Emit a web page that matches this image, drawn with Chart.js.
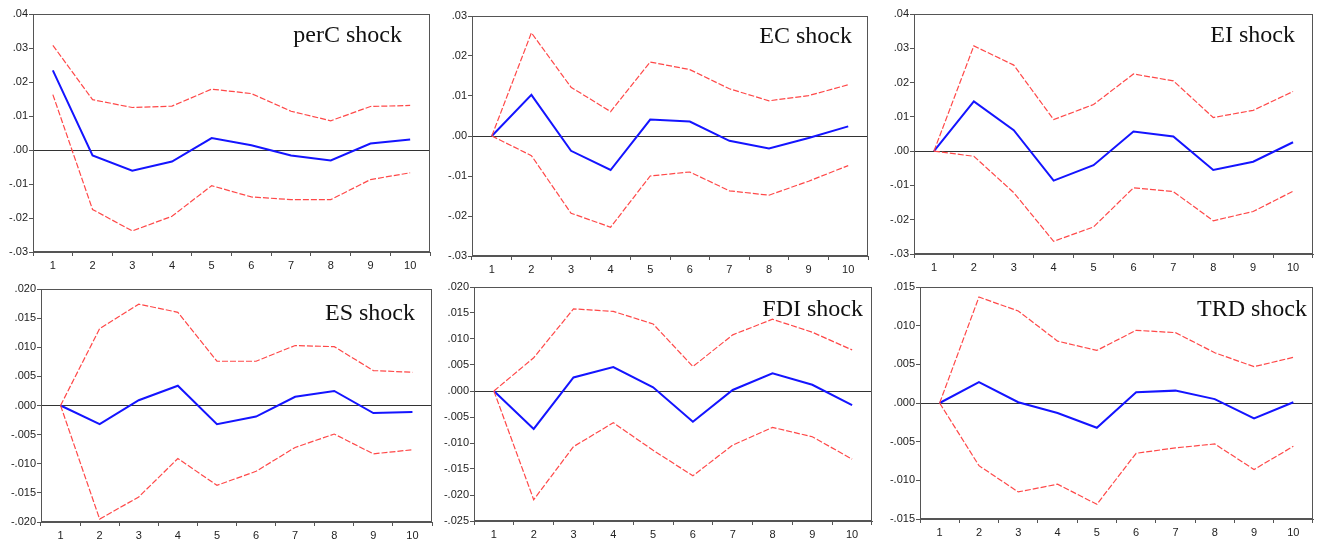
<!DOCTYPE html>
<html>
<head>
<meta charset="utf-8">
<script src="https://cdn.jsdelivr.net/npm/chart.js@4/dist/chart.umd.min.js"></script>
<style>
body { margin: 0; background: #fff; }
#wrap { position: relative; width: 1319px; height: 541px; overflow: hidden; }
#wrap canvas { position: absolute; }
</style>
</head>
<body>
<div id="wrap"></div>
<script>
// Perioder
const periods = ['1', '2', '3', '4', '5', '6', '7', '8', '9', '10'];

// perC shock
const perCResp  = [0.0234, -0.0016, -0.0061, -0.0034, 0.0035, 0.0014, -0.0016, -0.0031, 0.0019, 0.0031];
const perCUpper = [0.0308, 0.0148, 0.0125, 0.0129, 0.0179, 0.0166, 0.0114, 0.0086, 0.0128, 0.0131];
const perCLower = [0.0163, -0.0175, -0.0238, -0.0195, -0.0105, -0.0138, -0.0146, -0.0146, -0.0087, -0.0067];

// EC shock
const ecResp  = [0, 0.0103, -0.0037, -0.0085, 0.0041, 0.0036, -0.0012, -0.0031, -0.0005, 0.0024];
const ecUpper = [0, 0.0258, 0.0122, 0.0061, 0.0185, 0.0166, 0.0118, 0.0088, 0.0101, 0.0128];
const ecLower = [0, -0.0049, -0.0193, -0.0228, -0.0100, -0.0090, -0.0137, -0.0148, -0.0113, -0.0074];

// EI shock
const eiResp  = [0, 0.0145, 0.0061, -0.0086, -0.0041, 0.0057, 0.0043, -0.0055, -0.0031, 0.0026];
const eiUpper = [0, 0.0307, 0.0251, 0.0092, 0.0136, 0.0225, 0.0205, 0.0098, 0.0119, 0.0174];
const eiLower = [0, -0.0015, -0.0121, -0.0263, -0.0221, -0.0107, -0.0118, -0.0203, -0.0176, -0.0117];

// ES shock
const esResp  = [0, -0.0032, 0.0009, 0.0034, -0.0032, -0.0019, 0.0015, 0.0025, -0.0013, -0.0011];
const esUpper = [0, 0.0132, 0.0174, 0.0160, 0.0076, 0.0076, 0.0103, 0.0101, 0.0060, 0.0057];
const esLower = [0, -0.0195, -0.0157, -0.0091, -0.0137, -0.0113, -0.0072, -0.0049, -0.0083, -0.0076];

// FDI shock
const fdiResp  = [0, -0.0073, 0.0026, 0.0046, 0.0007, -0.0059, 0.0002, 0.0034, 0.0012, -0.0027];
const fdiUpper = [0, 0.0064, 0.0158, 0.0153, 0.0129, 0.0047, 0.0108, 0.0138, 0.0113, 0.0079];
const fdiLower = [0, -0.0209, -0.0107, -0.0061, -0.0114, -0.0163, -0.0104, -0.0070, -0.0088, -0.0131];

// TRD shock
const trdResp  = [0, 0.0027, 0.0001, -0.0013, -0.0032, 0.0014, 0.0016, 0.0005, -0.0020, 0.0001];
const trdUpper = [0, 0.0137, 0.0119, 0.0080, 0.0068, 0.0094, 0.0091, 0.0065, 0.0047, 0.0059];
const trdLower = [0, -0.0081, -0.0115, -0.0105, -0.0131, -0.0065, -0.0058, -0.0053, -0.0086, -0.0056];

// Paneloppsett: lerret [x, y, w, h], plottområde [venstre, topp, høyre, bunn], tittel [x, y]
const panels = [
    { title: 'perC shock', resp: perCResp, upper: perCUpper, lower: perCLower, min: -0.03, max: 0.04, step: 0.01, dec: 2,
      box: [0, 0, 440, 285], plot: [33, 14, 430, 252], titlePos: [402, 42] },
    { title: 'EC shock', resp: ecResp, upper: ecUpper, lower: ecLower, min: -0.03, max: 0.03, step: 0.01, dec: 2,
      box: [440, 0, 440, 285], plot: [472, 16, 868, 256], titlePos: [852, 43] },
    { title: 'EI shock', resp: eiResp, upper: eiUpper, lower: eiLower, min: -0.03, max: 0.04, step: 0.01, dec: 2,
      box: [880, 0, 439, 285], plot: [914, 14, 1313, 254], titlePos: [1295, 42] },
    { title: 'ES shock', resp: esResp, upper: esUpper, lower: esLower, min: -0.02, max: 0.02, step: 0.005, dec: 3,
      box: [0, 272, 440, 269], plot: [41, 289, 432, 522], titlePos: [415, 320] },
    { title: 'FDI shock', resp: fdiResp, upper: fdiUpper, lower: fdiLower, min: -0.025, max: 0.02, step: 0.005, dec: 3,
      box: [440, 272, 440, 269], plot: [474, 287, 872, 521], titlePos: [863, 316] },
    { title: 'TRD shock', resp: trdResp, upper: trdUpper, lower: trdLower, min: -0.015, max: 0.015, step: 0.005, dec: 3,
      box: [880, 272, 439, 269], plot: [920, 287, 1313, 519], titlePos: [1307, 316] }
];

// Ramme rundt plottet og tittel inne i plottet
const framePlugin = {
    id: 'frame',
    afterDraw(chart, args, opts) {
        const ctx = chart.ctx;
        const a = chart.chartArea;
        ctx.save();
        ctx.strokeStyle = '#555';
        ctx.lineWidth = 1;
        ctx.strokeRect(Math.round(a.left) + 0.5, Math.round(a.top) + 0.5,
            Math.round(a.right - a.left) - 1, Math.round(a.bottom - a.top) - 1);
        ctx.font = '24px "Liberation Serif", "Times New Roman", serif';
        ctx.fillStyle = '#111';
        ctx.textAlign = 'right';
        ctx.textBaseline = 'alphabetic';
        ctx.fillText(opts.text, opts.x, opts.y);
        ctx.restore();
    }
};

function fmtTick(v, dec) {
    return v.toFixed(dec).replace('0.', '.');
}

function makePanel(p) {
    const [bx, by, bw, bh] = p.box;
    const [pl, pt, pr, pb] = p.plot;
    const canvas = document.createElement('canvas');
    canvas.width = bw;
    canvas.height = bh;
    canvas.style.left = bx + 'px';
    canvas.style.top = by + 'px';
    canvas.style.width = bw + 'px';
    canvas.style.height = bh + 'px';
    document.getElementById('wrap').appendChild(canvas);

    const yWidth = pl - bx;
    const xHeight = by + bh - pb;
    const tickFont = { family: '"Liberation Sans", Arial', size: 11 };

    const dashed = {
        borderColor: '#ff4848',
        borderWidth: 1.2,
        borderDash: [6, 2],
        pointRadius: 0,
        tension: 0,
        fill: false
    };

    new Chart(canvas, {
        type: 'line',
        data: {
            labels: periods,
            datasets: [
                Object.assign({ label: 'upper', data: p.upper }, dashed),
                Object.assign({ label: 'lower', data: p.lower }, dashed),
                { label: 'resp', data: p.resp, borderColor: '#1414ff', borderWidth: 2,
                  pointRadius: 0, tension: 0, fill: false }
            ]
        },
        options: {
            responsive: false,
            animation: false,
            devicePixelRatio: 1,
            layout: { padding: { left: 0, top: pt - by, right: bx + bw - pr, bottom: 0 } },
            plugins: {
                legend: { display: false },
                tooltip: { enabled: false },
                frame: { text: p.title, x: p.titlePos[0] - bx, y: p.titlePos[1] - by }
            },
            scales: {
                x: {
                    offset: true,
                    grid: { offset: true, drawOnChartArea: false, color: '#555', tickColor: '#555', tickLength: 4 },
                    border: { color: '#555' },
                    ticks: { color: '#222', font: tickFont, padding: 3, maxRotation: 0, autoSkip: false },
                    afterFit(scale) { scale.height = xHeight; }
                },
                y: {
                    min: p.min,
                    max: p.max,
                    grid: {
                        color: ctx => Math.abs(ctx.tick.value) < 1e-9 ? '#333' : 'rgba(0,0,0,0)',
                        tickColor: '#555',
                        tickLength: 4
                    },
                    border: { color: '#555' },
                    ticks: {
                        stepSize: p.step,
                        color: '#222',
                        font: tickFont,
                        padding: 1,
                        callback: v => fmtTick(v, p.dec)
                    },
                    afterFit(scale) { scale.width = yWidth; }
                }
            }
        },
        plugins: [framePlugin]
    });
}

panels.forEach(makePanel);
</script>
</body>
</html>
